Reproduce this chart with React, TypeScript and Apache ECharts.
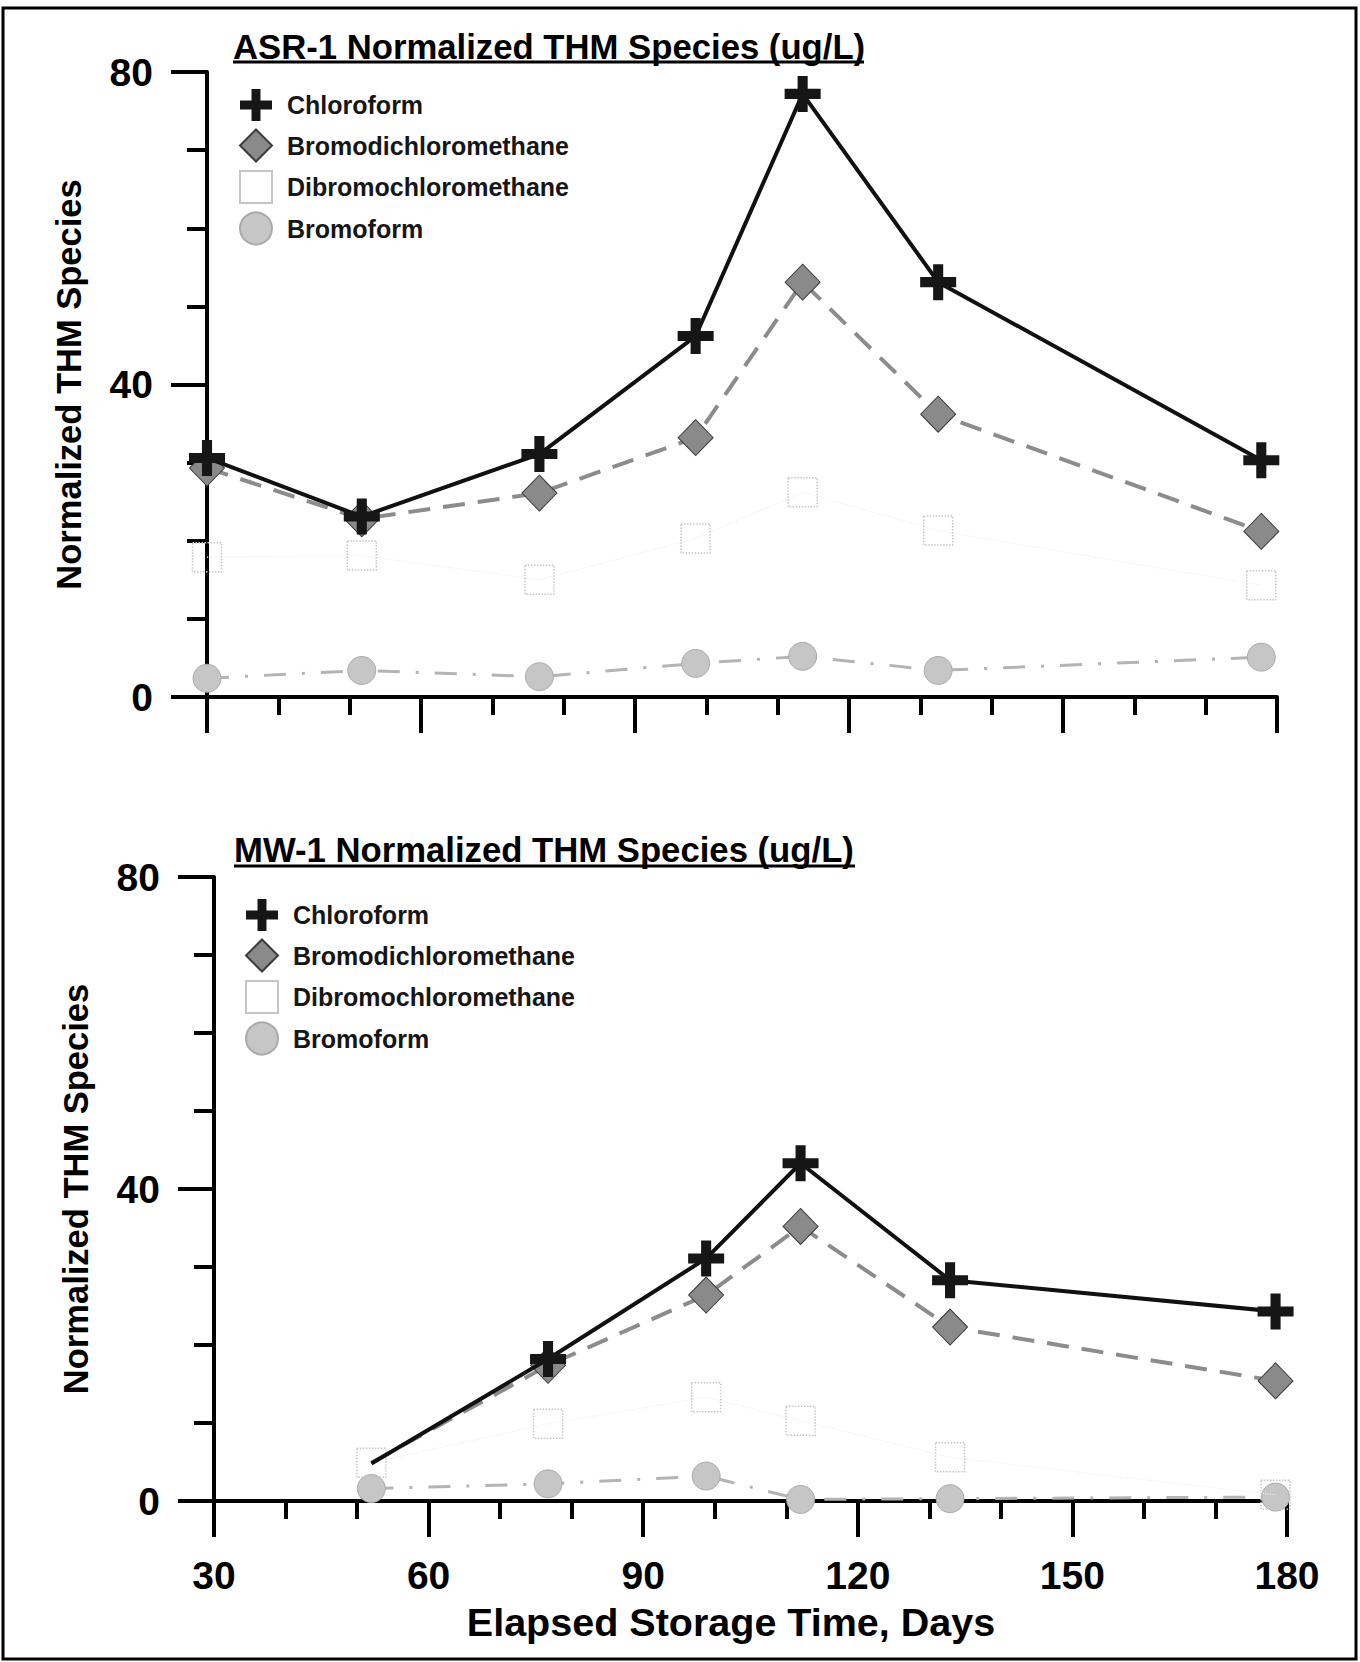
import React, { useEffect, useRef } from 'react';
import * as echarts from 'echarts';

const speciesNames = ['Chloroform', 'Bromodichloromethane', 'Dibromochloromethane', 'Bromoform'];

const xTickValues = [30, 60, 90, 120, 150, 180];
const yTickValues = [0, 40, 80];

const asrDays = [30, 51.7, 76.6, 98.5, 113.5, 132.5, 177.8];
const asrChloroform = [30.6, 23.1, 31.1, 46.2, 77.2, 53.1, 30.3];
const asrBromodichloromethane = [29.3, 22.8, 26.1, 33.2, 53.1, 36.2, 21.2];
const asrDibromochloromethane = [17.9, 18.1, 15.0, 20.3, 26.2, 21.3, 14.3];
const asrBromoform = [2.4, 3.4, 2.6, 4.3, 5.2, 3.4, 5.1];

const mwDays = [52, 76.7, 98.8, 112, 132.9, 178.4];
const mwChloroform = [4.8, 18.2, 31.1, 43.3, 28.3, 24.3];
const mwBromodichloromethane = [4.9, 17.4, 26.4, 35.2, 22.3, 15.4];
const mwDibromochloromethane = [4.9, 9.9, 13.3, 10.3, 5.6, 0.8];
const mwBromoform = [1.6, 2.2, 3.2, 0.2, 0.3, 0.5];
// first MW-1 point of these series has no visible marker in the source
const mwUnmarkedFirst = ['Chloroform', 'Bromodichloromethane'];

const FONT = 'Liberation Sans, Arial, sans-serif';
const CROSS = 'path://M36,0H64V36H100V64H64V100H36V64H0V36H36Z';

const styles: Record<string, any> = {
  Chloroform: {
    symbol: CROSS,
    symbolSize: 36,
    itemStyle: { color: '#161616' },
    lineStyle: { color: '#111', width: 4, type: 'solid' },
    z: 5,
  },
  Bromodichloromethane: {
    symbol: 'diamond',
    symbolSize: [35, 36],
    itemStyle: { color: '#8a8a8a', borderColor: '#3c3c3c', borderWidth: 1 },
    lineStyle: { color: '#8c8c8c', width: 4, type: [22, 13] },
    z: 4,
  },
  Dibromochloromethane: {
    symbol: 'rect',
    symbolSize: 29,
    itemStyle: { color: 'rgba(255,255,255,0)', borderColor: '#c6c6c6', borderWidth: 1.5, borderType: 'dotted' },
    lineStyle: { color: '#efefef', width: 1.2, type: 'dotted' },
    z: 3,
  },
  Bromoform: {
    symbol: 'circle',
    symbolSize: 28,
    itemStyle: { color: '#c6c6c6', borderColor: '#ababab', borderWidth: 1 },
    lineStyle: { color: '#b4b4b4', width: 3, type: [22, 16, 3, 16] },
    z: 2,
  },
};

function makeSeries(gridIndex: number, days: number[], values: number[], name: string, unmarkedFirst: boolean) {
  const s = styles[name];
  return {
    type: 'line',
    name,
    xAxisIndex: gridIndex,
    yAxisIndex: gridIndex,
    data: days.map((d, i) =>
      i === 0 && unmarkedFirst ? { value: [d, values[i]], symbol: 'none' } : [d, values[i]]
    ),
    symbol: s.symbol,
    symbolSize: s.symbolSize,
    symbolKeepAspect: false,
    showSymbol: true,
    itemStyle: s.itemStyle,
    lineStyle: s.lineStyle,
    z: s.z,
    emphasis: { disabled: true },
  };
}

function xAxis(gridIndex: number, showLabels: boolean) {
  return {
    type: 'value',
    gridIndex,
    min: xTickValues[0],
    max: xTickValues[xTickValues.length - 1],
    interval: 30,
    axisLine: { show: true, onZero: false, lineStyle: { color: '#000', width: 4 } },
    axisTick: { show: true, length: 36, lineStyle: { color: '#000', width: 4 } },
    minorTick: { show: true, splitNumber: 3, length: 18, lineStyle: { color: '#000', width: 4 } },
    splitLine: { show: false },
    axisLabel: {
      show: showLabels,
      margin: 55,
      fontSize: 39,
      fontWeight: 'bold',
      color: '#000',
      fontFamily: FONT,
    },
  };
}

function yAxis(gridIndex: number) {
  return {
    type: 'value',
    gridIndex,
    min: yTickValues[0],
    max: yTickValues[yTickValues.length - 1],
    interval: 40,
    name: 'Normalized THM Species',
    nameLocation: 'middle',
    nameGap: 121,
    nameTextStyle: { fontSize: 34.5, fontWeight: 'bold', color: '#000', fontFamily: FONT },
    axisLine: { show: true, onZero: false, lineStyle: { color: '#000', width: 4 } },
    axisTick: { show: true, length: 36, lineStyle: { color: '#000', width: 4 } },
    minorTick: { show: true, splitNumber: 4, length: 20, lineStyle: { color: '#000', width: 4 } },
    splitLine: { show: false },
    axisLabel: {
      margin: 54,
      fontSize: 39,
      fontWeight: 'bold',
      color: '#000',
      fontFamily: FONT,
    },
  };
}

function legend(left: number, top: number) {
  return {
    orient: 'vertical',
    left,
    top,
    itemWidth: 32,
    itemHeight: 32,
    itemGap: 7.5,
    selectedMode: false,
    textStyle: { fontSize: 25, fontWeight: 'bold', color: '#161616', fontFamily: FONT, padding: [0, 0, 0, 10] },
    data: speciesNames.map((n) => ({ name: n, icon: styles[n].symbol })),
  };
}

export default function App() {
  const ref = useRef<HTMLDivElement>(null);
  useEffect(() => {
    if (!ref.current) return;
    const chart = echarts.init(ref.current, null, { renderer: 'svg' });
    const order = ['Bromoform', 'Dibromochloromethane', 'Bromodichloromethane', 'Chloroform'];
    const asr: Record<string, number[]> = {
      Chloroform: asrChloroform,
      Bromodichloromethane: asrBromodichloromethane,
      Dibromochloromethane: asrDibromochloromethane,
      Bromoform: asrBromoform,
    };
    const mw: Record<string, number[]> = {
      Chloroform: mwChloroform,
      Bromodichloromethane: mwBromodichloromethane,
      Dibromochloromethane: mwDibromochloromethane,
      Bromoform: mwBromoform,
    };
    const series = [
      ...order.map((n) => makeSeries(0, asrDays, asr[n], n, false)),
      ...order.map((n) => makeSeries(1, mwDays, mw[n], n, mwUnmarkedFirst.includes(n))),
    ];
    chart.setOption({
      animation: false,
      backgroundColor: '#fff',
      grid: [
        { left: 207, top: 72, width: 1070, height: 625 },
        { left: 214, top: 877, width: 1073, height: 624 },
      ],
      xAxis: [xAxis(0, false), xAxis(1, true)],
      yAxis: [yAxis(0), yAxis(1)],
      legend: [legend(234, 84), legend(240, 894)],
      series,
      graphic: [
        {
          type: 'rect',
          shape: { x: 3, y: 8, width: 1353, height: 1651 },
          style: { fill: 'none', stroke: '#000', lineWidth: 3 },
          silent: true,
        },
        {
          type: 'text',
          x: 233,
          y: 47,
          style: {
            text: 'ASR-1 Normalized THM Species (ug/L)',
            font: `bold 34.7px ${FONT}`,
            fill: '#000',
            verticalAlign: 'middle',
          },
        },
        {
          type: 'line',
          shape: { x1: 233, y1: 62, x2: 864, y2: 62 },
          style: { stroke: '#000', lineWidth: 3 },
        },
        {
          type: 'text',
          x: 234,
          y: 850,
          style: {
            text: 'MW-1 Normalized THM Species (ug/L)',
            font: `bold 34.7px ${FONT}`,
            fill: '#000',
            verticalAlign: 'middle',
          },
        },
        {
          type: 'line',
          shape: { x1: 234, y1: 866, x2: 855, y2: 866 },
          style: { stroke: '#000', lineWidth: 3 },
        },
        {
          type: 'text',
          x: 731,
          y: 1622,
          style: {
            text: 'Elapsed Storage Time, Days',
            font: `bold 39.5px ${FONT}`,
            fill: '#000',
            align: 'center',
            verticalAlign: 'middle',
          },
        },
      ],
    });
    return () => chart.dispose();
  }, []);
  return (
    <div
      ref={ref}
      style={{ position: 'absolute', left: 0, top: 0, width: 1360, height: 1662 }}
    />
  );
}
